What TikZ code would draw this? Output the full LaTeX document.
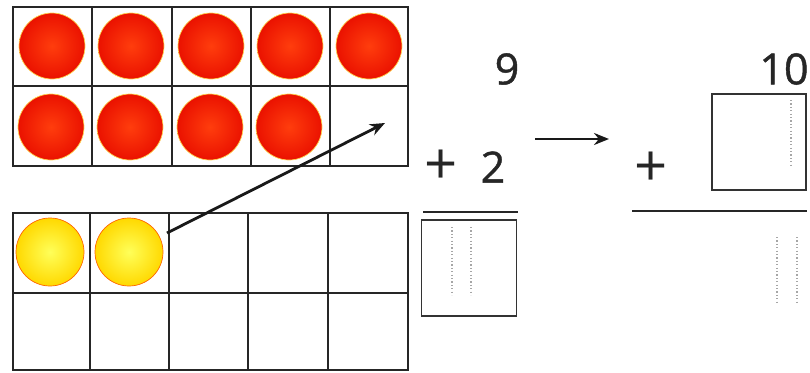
\documentclass[tikz,border=0pt]{standalone}
\usepackage{fontspec}
\setmainfont{Open Sans}
\newfontfamily\numfont{Open Sans}[BoldFont={Open Sans},BoldFeatures={FakeBold=1.0}]
\usetikzlibrary{arrows.meta}
\begin{document}
\begin{tikzpicture}[x=1pt,y=-1pt,
  gridline/.style={line width=2pt,black!85},
  redball/.style={circle,minimum size=66pt,inner sep=0pt,draw=orange!50!yellow!70,line width=0.7pt,inner color=red!60!orange!95!white,outer color=red!85!orange!92!black},
  yellowball/.style={circle,minimum size=68pt,inner sep=0pt,draw=orange!80!red,line width=0.7pt,inner color=yellow!65!white,outer color=yellow!70!orange},
  numtext/.style={font=\fontsize{43}{46}\numfont\bfseries,inner sep=0pt,text=black!85},
  plustext/.style={font=\fontsize{58}{60}\numfont,inner sep=0pt,text=black!85},
  answerbox/.style={draw=black!80,line width=1.4pt},
  guide/.style={gray!70,line width=1.3pt,dash pattern=on 1.2pt off 2.2pt},
  rule/.style={line width=2.4pt,black!85},
  conn/.style={line width=2.8pt,black!90,-{Stealth[length=15pt,width=12pt]}}]
\useasboundingbox (0,0) rectangle (810,372);
\fill[white] (0,0) rectangle (810,372);
% top ten-frame
\draw[gridline] (13,7) rectangle (408,166);
\draw[gridline] (13,86) -- (408,86);
\foreach \x in {92,172,251,330} \draw[gridline] (\x,7) -- (\x,166);
% bottom ten-frame
\draw[gridline] (13,213) rectangle (408,370);
\draw[gridline] (13,293) -- (408,293);
\foreach \x in {90,169,248,328} \draw[gridline] (\x,213) -- (\x,370);
% red balls
\foreach \i/\x in {1/52,2/131,3/211,4/290,5/369} \node[redball] (r1\i) at (\x,46) {};
\foreach \i/\x in {1/51,2/130,3/210,4/289} \node[redball] (r2\i) at (\x,127) {};
% yellow balls
\node[yellowball] (y1) at (50,252) {};
\node[yellowball] (y2) at (129,252) {};
% arrow into empty cell
\coordinate (ystart) at (167,233);
\coordinate (target) at (385,123);
\draw[conn] (ystart) -- (target);
% first sum
\node[numtext] (nine) at (507,69) {9};
\node[plustext] (plusA) at (441,167) {+};
\node[numtext] (two) at (493,167) {2};
\draw[rule] (423,212) -- (518,212);
\node[answerbox,minimum width=95pt,minimum height=96pt,inner sep=0pt] (boxA) at (469,268) {};
\draw[guide] (452,227) -- (452,295);
\draw[guide] (471,227) -- (471,295);
% middle arrow
\coordinate (mstart) at (535,139);
\coordinate (mend) at (609,139);
\draw[conn] (mstart) -- (mend);
% second sum
\node[numtext] (ten) at (784,69) {10};
\node[answerbox,minimum width=94pt,minimum height=96pt,inner sep=0pt] (boxB) at (759,142) {};
\draw[guide] (791,100) -- (791,167);
\node[plustext] (plusB) at (651,169) {+};
\draw[rule] (632,211) -- (807,211);
\draw[guide] (777,237) -- (777,303);
\draw[guide] (797,237) -- (797,303);
\end{tikzpicture}
\end{document}
